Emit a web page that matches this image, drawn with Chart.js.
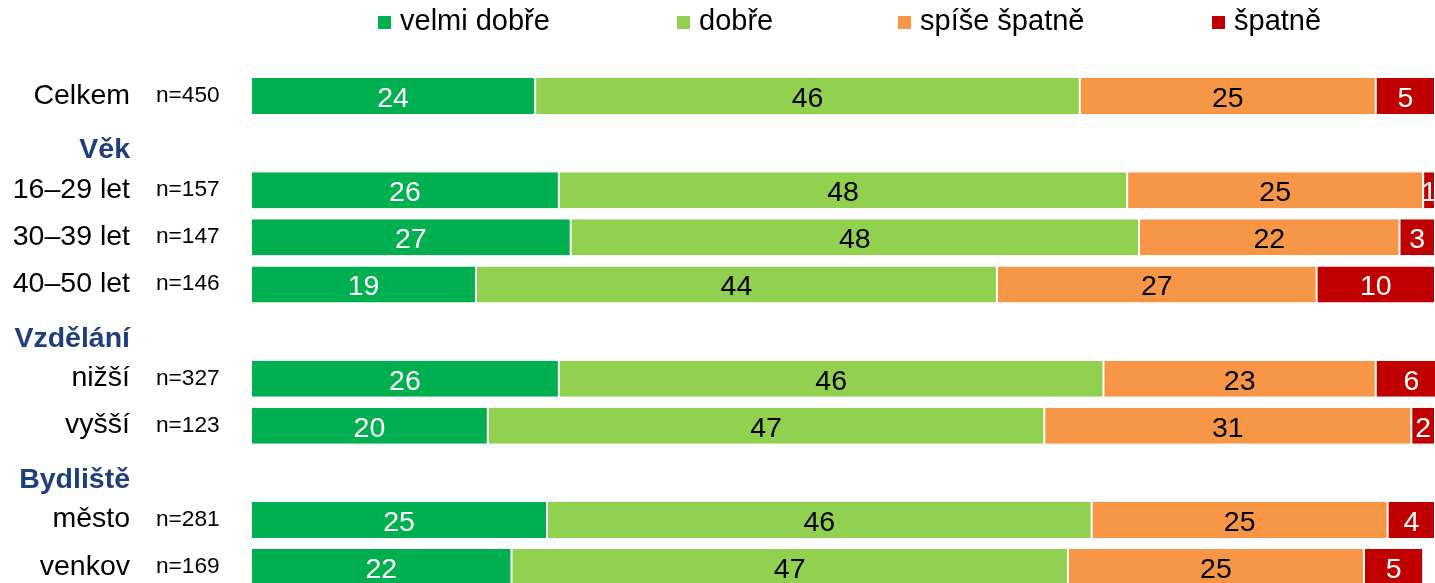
<!DOCTYPE html>
<html lang="cs">
<head>
<meta charset="utf-8">
<title>Hodnocení podle skupin</title>
<script src="https://cdn.jsdelivr.net/npm/chart.js@4.4.1/dist/chart.umd.min.js"></script>
<style>
  body { margin: 0; background: #fff; overflow: hidden; font-family: 'Liberation Sans', Arial, sans-serif; }
  #wrap { position: relative; width: 1435px; height: 600px; }
  #legend .item { position: absolute; top: 4px; font-size: 29px; line-height: 32px; color: #000; white-space: nowrap; }
  #legend .box { display: inline-block; width: 13px; height: 13px; margin-right: 9px; vertical-align: 1px; }
</style>
</head>
<body>
<div id="wrap">
  <div id="legend"></div>
  <canvas id="chart" width="1435" height="600"></canvas>
</div>
<script>
/* ── DATA ── */
const categories = ['Celkem', 'Věk', '16–29 let', '30–39 let', '40–50 let', 'Vzdělání', 'nižší', 'vyšší', 'Bydliště', 'město', 'venkov'];
const headers    = ['Věk', 'Vzdělání', 'Bydliště'];
const sampleSize = ['n=450', '', 'n=157', 'n=147', 'n=146', '', 'n=327', 'n=123', '', 'n=281', 'n=169'];

const seriesNames = ['velmi dobře', 'dobře', 'spíše špatně', 'špatně'];
const veryGood = [24, null, 26, 27, 19, null, 26, 20, null, 25, 22];
const good     = [46, null, 48, 48, 44, null, 46, 47, null, 46, 47];
const ratherBad= [25, null, 25, 22, 27, null, 23, 31, null, 25, 25];
const bad      = [5,  null, 1,  3,  10, null, 6,  2,  null, 4,  5];

/* ── STYLE ── */
const COLORS      = ['#00B050', '#92D050', '#F79646', '#C00000'];
const LABEL_COLOR = ['#FFFFFF', '#000000', '#000000', '#FFFFFF'];
const LEGEND_X    = [378, 677, 898, 1212];
const FONT        = "'Liberation Sans', Arial, sans-serif";
const HEADER_BLUE = '#1F3F7C';

// legenda (HTML, pevné pozice jako v originále)
const legendEl = document.getElementById('legend');
seriesNames.forEach((name, i) => {
  const it = document.createElement('div');
  it.className = 'item';
  it.style.left = LEGEND_X[i] + 'px';
  it.innerHTML = `<span class="box" style="background:${COLORS[i]}"></span>${name}`;
  legendEl.appendChild(it);
});

/* ── PLUGIN: popisky kategorií, sloupec n= a hodnoty v pruzích ── */
const barLabels = {
  id: 'barLabels',
  afterDatasetsDraw(chart) {
    const ctx = chart.ctx;
    const y = chart.scales.y;
    ctx.save();
    ctx.textBaseline = 'alphabetic';

    // hodnoty
    ctx.textAlign = 'center';
    ctx.font = `28.5px ${FONT}`;
    chart.data.datasets.forEach((ds, di) => {
      const meta = chart.getDatasetMeta(di);
      meta.data.forEach((bar, i) => {
        const v = ds.data[i];
        if (v == null) return;
        ctx.fillStyle = LABEL_COLOR[di];
        ctx.fillText(String(v), (bar.x + bar.base) / 2, bar.y + 11);
      });
    });

    // kategorie (nadpisy skupin tučně modře, trochu níž)
    ctx.textAlign = 'right';
    categories.forEach((c, i) => {
      const isHead = headers.includes(c);
      ctx.font = `${isHead ? 'bold ' : ''}28.5px ${FONT}`;
      ctx.fillStyle = isHead ? HEADER_BLUE : '#000';
      ctx.fillText(c, 130, y.getPixelForValue(i) + (isHead ? 15 : 7.5));
    });

    // n= sloupec
    ctx.textAlign = 'left';
    ctx.font = `22.7px ${FONT}`;
    ctx.fillStyle = '#000';
    sampleSize.forEach((t, i) => {
      if (!t) return;
      ctx.fillText(t, 156, y.getPixelForValue(i) + 6);
    });
    ctx.restore();
  }
};

const datasets = [veryGood, good, ratherBad, bad].map((arr, i) => ({
  label: seriesNames[i],
  data: arr,
  backgroundColor: COLORS[i],
  borderColor: '#FFFFFF',
  borderWidth: { left: 1, right: 1, top: 0, bottom: 0 },
  borderSkipped: false,
  barPercentage: 0.765,
  categoryPercentage: 1,
}));

new Chart(document.getElementById('chart'), {
  type: 'bar',
  data: { labels: categories, datasets },
  options: {
    indexAxis: 'y',
    responsive: false,
    animation: false,
    devicePixelRatio: 1,
    layout: { padding: { top: 72.5, bottom: 9.4, left: 0, right: 0 } },
    plugins: { legend: { display: false }, tooltip: { enabled: false } },
    scales: {
      x: { stacked: true, min: 0, max: 100, display: false },
      y: {
        stacked: true,
        grid: { display: false },
        border: { display: false },
        ticks: { display: false },
        // šířka osy = levý okraj pruhů
        afterFit: s => { s.width = 251; s.paddingTop = 0; s.paddingBottom = 0; },
      },
    },
  },
  plugins: [barLabels],
});
</script>
</body>
</html>
